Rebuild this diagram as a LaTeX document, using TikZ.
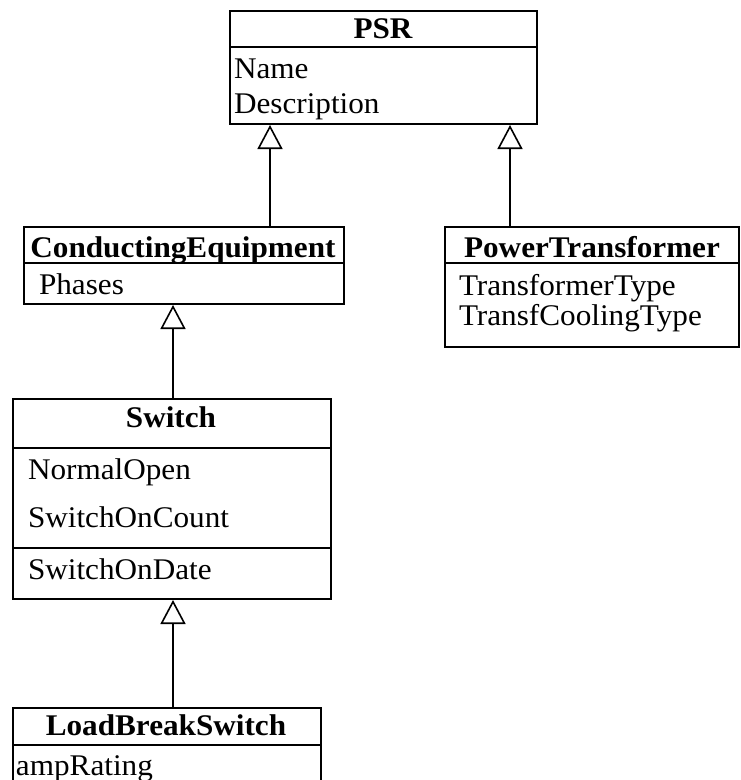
\documentclass[tikz,border=0pt]{standalone}
\usepackage{fontspec}
\setmainfont{Liberation Serif}[FakeStretch=1.04]
\usetikzlibrary{arrows.meta}

\begin{document}
\begin{tikzpicture}[x=1pt, y=-1pt, line width=2pt,
    every node/.style={font=\fontsize{30}{34}\selectfont, inner sep=0pt},
    classbox/.style={draw, anchor=north west},
    head/.style={anchor=base, font=\fontsize{30}{34}\selectfont\bfseries},
    attr/.style={anchor=base west},
    gen/.style={-{Triangle[open, length=24pt, width=25pt, line width=1.6pt]}}]
    \useasboundingbox (0,0) rectangle (740,780);

    % PSR
    \node[classbox, minimum width=307pt, minimum height=113pt] (psr) at (229,10) {};
    \draw (229,47) -- (536,47);
    \node[head] (psrh) at (383,38) {PSR};
    \node[attr] (psra) at (233,78) {Name};
    \node[attr] (psrb) at (233,113) {Description};

    % ConductingEquipment
    \node[classbox, minimum width=320pt, minimum height=77pt] (ce) at (23,226) {};
    \draw (23,263) -- (343,263);
    \node[head] (ceh) at (183,257) {ConductingEquipment};
    \node[attr] (cea) at (38,294) {Phases};

    % PowerTransformer
    \node[classbox, minimum width=294pt, minimum height=120pt] (pt) at (444,226) {};
    \draw (444,263) -- (738,263);
    \node[head] (pth) at (592,257) {PowerTransformer};
    \node[attr] (pta) at (458,295) {TransformerType};
    \node[attr] (ptb) at (458,325) {TransfCoolingType};

    % Switch
    \node[classbox, minimum width=318pt, minimum height=200pt] (sw) at (12,398) {};
    \draw (12,448) -- (330,448);
    \draw (12,548) -- (330,548);
    \node[head] (swh) at (171,427) {Switch};
    \node[attr] (swa) at (27,479) {NormalOpen};
    \node[attr] (swb) at (27,527) {SwitchOnCount};
    \node[attr] (swc) at (27,579) {SwitchOnDate};

    % LoadBreakSwitch
    \node[classbox, minimum width=308pt, minimum height=90pt] (lbs) at (12,707) {};
    \draw (12,745) -- (320,745);
    \node[head] (lbsh) at (166,735) {LoadBreakSwitch};
    \node[attr] (lbsa) at (15,775) {ampRating};

    % generalisations
    \draw[gen] ([xshift=86pt]ce.north) -- ([xshift=86pt]ce.north |- psr.south);
    \draw[gen] ([xshift=-82pt]pt.north) -- ([xshift=-82pt]pt.north |- psr.south);
    \draw[gen] ([xshift=1pt]sw.north) -- ([xshift=1pt]sw.north |- ce.south);
    \draw[gen] ([xshift=6pt]lbs.north) -- ([xshift=6pt]lbs.north |- sw.south);
\end{tikzpicture}
\end{document}
